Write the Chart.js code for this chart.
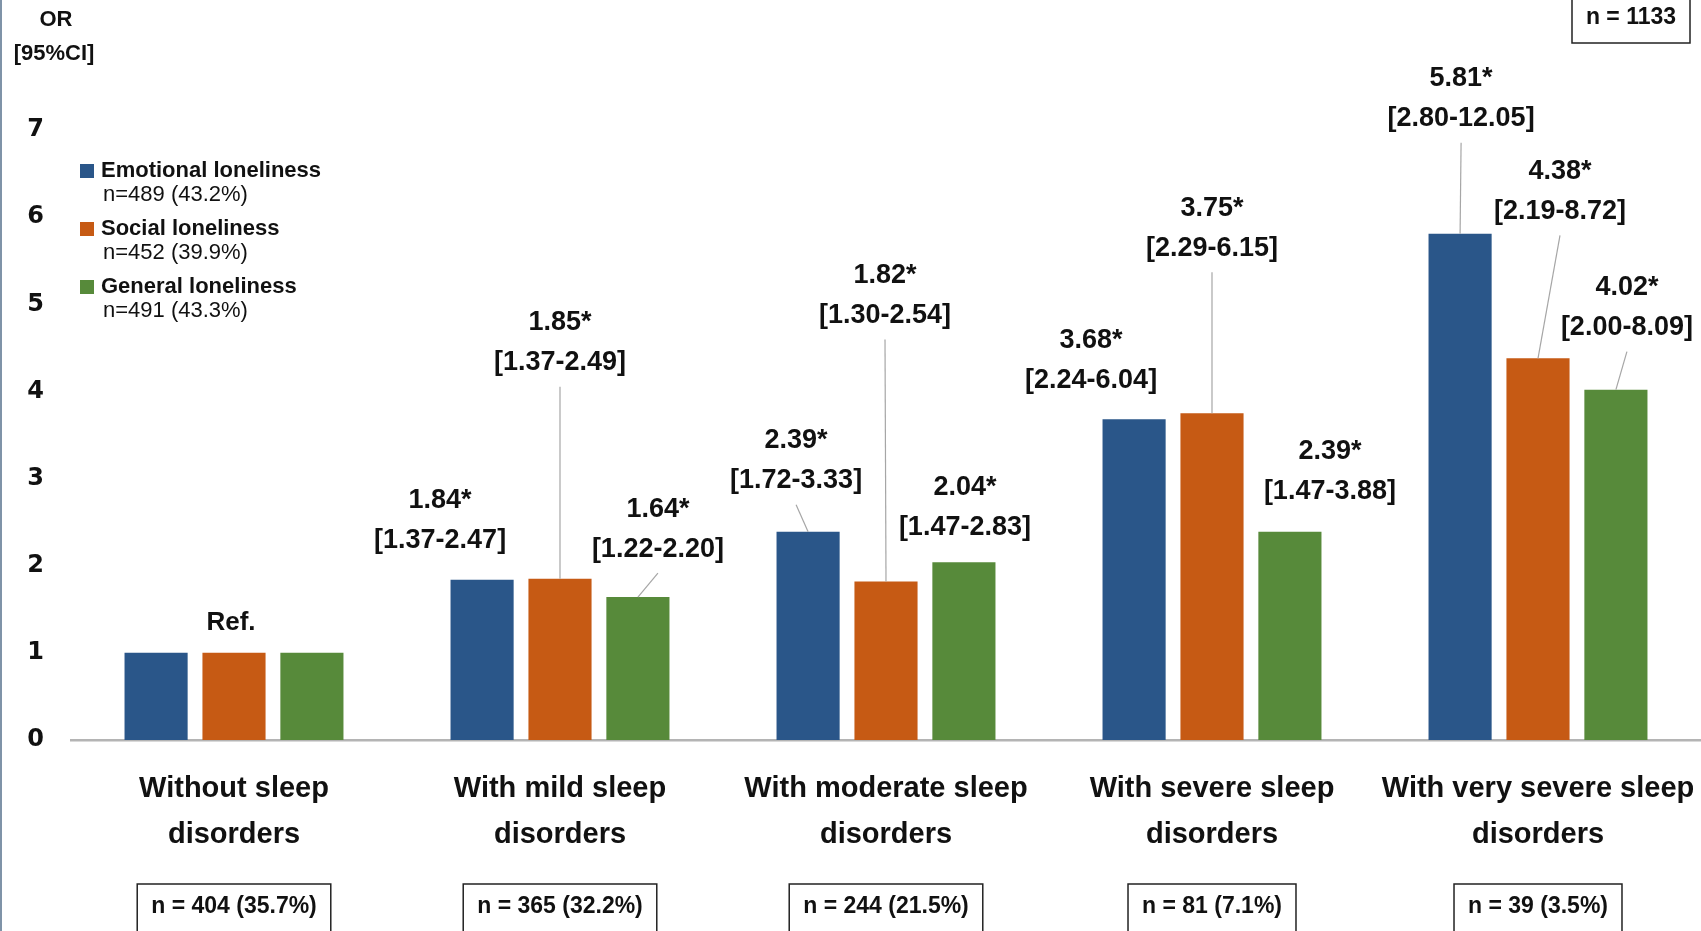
<!DOCTYPE html>
<html>
<head>
<meta charset="utf-8">
<title>Loneliness and sleep disorders - OR</title>
<script src="https://cdn.jsdelivr.net/npm/chart.js@4.4.1/dist/chart.umd.min.js"></script>
<style>
  html, body { margin: 0; padding: 0; background: #fff; overflow: hidden; }
  #wrap { position: relative; width: 1701px; height: 931px; }
</style>
</head>
<body>
<div id="wrap"><canvas id="orChart"></canvas></div>
<script>
// Categories and group sizes
const categories = [
    ['Without sleep', 'disorders'],
    ['With mild sleep', 'disorders'],
    ['With moderate sleep', 'disorders'],
    ['With severe sleep', 'disorders'],
    ['With very severe sleep', 'disorders']
];
const groupCounts = ['n = 404 (35.7%)', 'n = 365 (32.2%)', 'n = 244 (21.5%)', 'n = 81 (7.1%)', 'n = 39 (3.5%)'];
const totalCount = 'n = 1133';

// Series
const seriesNames = ['Emotional loneliness', 'Social loneliness', 'General loneliness'];
const seriesCounts = ['n=489 (43.2%)', 'n=452 (39.9%)', 'n=491 (43.3%)'];

// Odds ratios (first category is the reference)
const emotionalOR = [1, 1.84, 2.39, 3.68, 5.81];
const socialOR = [1, 1.85, 1.82, 3.75, 4.38];
const generalOR = [1, 1.64, 2.04, 2.39, 4.02];

// 95% confidence intervals
const emotionalLow = [null, 1.37, 1.72, 2.24, 2.80];
const emotionalHigh = [null, 2.47, 3.33, 6.04, 12.05];
const socialLow = [null, 1.37, 1.30, 2.29, 2.19];
const socialHigh = [null, 2.49, 2.54, 6.15, 8.72];
const generalLow = [null, 1.22, 1.47, 1.47, 2.00];
const generalHigh = [null, 2.20, 2.83, 3.88, 8.09];

const yTicks = [0, 1, 2, 3, 4, 5, 6, 7];

// Layout only: where each data label sits relative to the top of its bar (px)
const labelOffsets = [
    [null, [-42, -79], [-12, -91], [-43, -79], [1, -155]],
    [[-3, -30], [0, -256], [-1, -306], [0, -205], [22, -187]],
    [null, [20, -88], [1, -75], [40, -80], [11, -102]]
];

const colors = ['#2A5689', '#C65A14', '#578A3A'];
const FONT = "'Liberation Sans', Arial, sans-serif";

const orValues = [emotionalOR, socialOR, generalOR];
const ciLow = [emotionalLow, socialLow, generalLow];
const ciHigh = [emotionalHigh, socialHigh, generalHigh];

// Draw OR labels, legend, axis title and count boxes
const decorPlugin = {
    id: 'decor',
    afterDraw(chart) {
        const ctx = chart.ctx;
        const xScale = chart.scales.x;
        ctx.save();

        // left border of the figure
        ctx.fillStyle = '#7f93a8';
        ctx.fillRect(0, 0, 2, chart.height);

        ctx.textAlign = 'center';
        ctx.textBaseline = 'middle';
        ctx.fillStyle = '#111';

        // data labels with leader lines
        chart.data.datasets.forEach((ds, di) => {
            const meta = chart.getDatasetMeta(di);
            meta.data.forEach((bar, i) => {
                const off = labelOffsets[di][i];
                if (!off) return;
                const lx = bar.x + off[0];
                const ly = bar.y + off[1];
                ctx.font = 'bold 26px ' + FONT;
                if (ciLow[di][i] === null) {
                    ctx.fillText('Ref.', lx, ly);
                    return;
                }
                ctx.font = 'bold 27px ' + FONT;
                ctx.fillText(orValues[di][i].toFixed(2) + '*', lx, ly);
                ctx.fillText('[' + ciLow[di][i].toFixed(2) + '-' + ciHigh[di][i].toFixed(2) + ']', lx, ly + 40);
                const sy = ly + 64;
                if (bar.y - sy > 20) {
                    ctx.strokeStyle = '#a6a6a6';
                    ctx.lineWidth = 1.2;
                    ctx.beginPath();
                    ctx.moveTo(lx, sy);
                    ctx.lineTo(bar.x, bar.y);
                    ctx.stroke();
                }
            });
        });

        // y axis title
        ctx.font = 'bold 22px ' + FONT;
        ctx.fillText('OR', 56, 20);
        ctx.fillText('[95%CI]', 54, 54);

        // legend
        ctx.textAlign = 'left';
        seriesNames.forEach((name, k) => {
            const y = 171 + k * 58;
            ctx.fillStyle = colors[k];
            ctx.fillRect(80, y - 7, 14, 14);
            ctx.fillStyle = '#111';
            ctx.font = 'bold 22px ' + FONT;
            ctx.fillText(name, 101, y);
            ctx.font = '22px ' + FONT;
            ctx.fillText(seriesCounts[k], 103, y + 24);
        });

        // count boxes under categories
        ctx.textAlign = 'center';
        ctx.font = 'bold 23px ' + FONT;
        ctx.strokeStyle = '#222';
        ctx.lineWidth = 1.5;
        groupCounts.forEach((txt, i) => {
            const cx = xScale.getPixelForValue(i);
            const w = ctx.measureText(txt).width + 28;
            ctx.strokeRect(cx - w / 2, 884, w, 60);
            ctx.fillText(txt, cx, 907);
        });

        // total n box
        ctx.strokeRect(1572, -5, 118, 48);
        ctx.fillText(totalCount, 1631, 18);

        ctx.restore();
    }
};

const ctx = document.getElementById('orChart').getContext('2d');
new Chart(ctx, {
    type: 'bar',
    data: {
        labels: categories,
        datasets: seriesNames.map((name, k) => ({
            label: name,
            data: orValues[k],
            backgroundColor: colors[k],
            borderWidth: 0,
            categoryPercentage: 0.717,
            barPercentage: 0.81
        }))
    },
    options: {
        responsive: true,
        maintainAspectRatio: false,
        animation: false,
        layout: { padding: { top: 130, right: 0, bottom: 0, left: 0 } },
        plugins: {
            legend: { display: false },
            tooltip: { enabled: false }
        },
        scales: {
            x: {
                grid: { display: false, drawTicks: false },
                border: { display: true, color: '#b4b4b4', width: 2.5 },
                ticks: {
                    color: '#111',
                    font: { family: FONT, size: 29, weight: 'bold', lineHeight: 1.59 },
                    padding: 26,
                    maxRotation: 0,
                    autoSkip: false
                },
                afterFit(scale) {
                    scale.height = 191;
                    scale.paddingLeft = 0;
                    scale.paddingRight = 0;
                }
            },
            y: {
                min: 0,
                max: 7,
                grid: { display: false, drawTicks: false },
                border: { display: false },
                afterBuildTicks(scale) { scale.ticks = yTicks.map(v => ({ value: v })); },
                ticks: {
                    color: '#111',
                    font: { family: "'DejaVu Sans', sans-serif", size: 24, weight: 'bold' },
                    padding: 27
                },
                afterFit(scale) {
                    scale.width = 71;
                    scale.paddingTop = 0;
                    scale.paddingBottom = 0;
                }
            }
        }
    },
    plugins: [decorPlugin]
});
</script>
</body>
</html>
